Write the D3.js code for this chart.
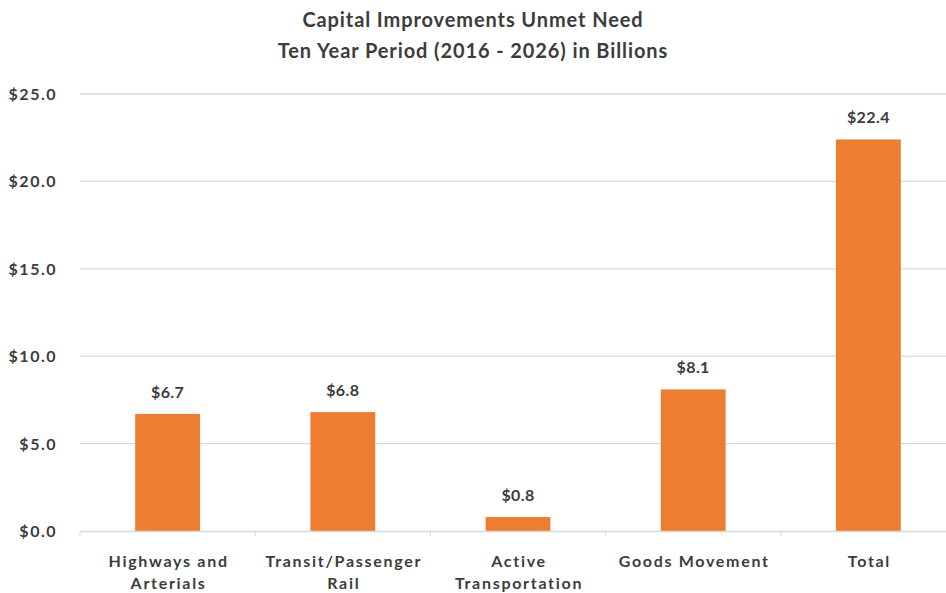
<!DOCTYPE html>
<html><head><meta charset="utf-8">
<script src="https://cdn.jsdelivr.net/npm/d3@7"></script>
<style>body{margin:0;background:#fff}svg{display:block}</style>
</head><body><svg id="c" width="946" height="593"></svg>
<script>
const categories = [["Highways and","Arterials"],["Transit/Passenger","Rail"],["Active","Transportation"],["Goods Movement"],["Total"]];
const values = [6.7, 6.8, 0.8, 8.1, 22.4];
const yTicks = [0, 5, 10, 15, 20, 25];
const titleLines = ["Capital Improvements Unmet Need", "Ten Year Period (2016 - 2026) in Billions"];

(function(){
const svg = d3.select("#c");
const W = 946, H = 593;
const mLeft = 80, mRight = 956, mTop = 94, mBottom = 531;
const font = "Lato, 'Open Sans', sans-serif";
const txt = "#3c3c3c";

const keys = categories.map(c => c.join(" "));
const x = d3.scaleBand().domain(keys).range([mLeft, mRight]).paddingInner(0.63).paddingOuter(0.315);
const xc = d3.scaleBand().domain(keys).range([mLeft, mRight]).padding(0);
const y = d3.scaleLinear().domain([0, 25]).range([mBottom, mTop]);

// title
svg.append("g").selectAll("text").data(titleLines).join("text")
  .attr("x", 473).attr("y", (d,i) => 27 + i*31)
  .attr("text-anchor","middle").attr("font-family",font).attr("font-weight","bold")
  .attr("font-size",20).attr("letter-spacing","0.9px").attr("fill",txt).text(d => d);

// gridlines
svg.append("g").selectAll("line").data(yTicks.filter(t => t>0)).join("line")
  .attr("x1", mLeft).attr("x2", W).attr("y1", d => y(d)).attr("y2", d => y(d))
  .attr("stroke","#d9d9d9").attr("stroke-width",1.3);

// y labels
svg.append("g").selectAll("text").data(yTicks).join("text")
  .attr("x", 57).attr("y", d => y(d)+6).attr("text-anchor","end")
  .attr("font-family",font).attr("font-weight","bold").attr("font-size",16)
  .attr("letter-spacing","1.5px").attr("fill",txt)
  .text(d => "$" + d.toFixed(1));

// bars
svg.append("g").selectAll("rect").data(values).join("rect")
  .attr("x", (d,i) => x(keys[i])).attr("width", x.bandwidth())
  .attr("y", d => y(d)).attr("height", d => mBottom - y(d))
  .attr("fill","#ED7D31");

// x axis
const xAxis = d3.axisBottom(xc).tickSize(0).tickFormat("");
const gx = svg.append("g").attr("transform",`translate(0,${mBottom})`).call(xAxis);
gx.select(".domain").attr("stroke","#d9d9d9").attr("stroke-width",1.3);
gx.append("g").selectAll("line").data(keys.slice(1)).join("line")
  .attr("x1", d => xc(d)).attr("x2", d => xc(d)).attr("y1",0).attr("y2",5)
  .attr("stroke","#d9d9d9");
svg.append("line").attr("x1",mLeft).attr("x2",mLeft).attr("y1",mBottom).attr("y2",mBottom+5).attr("stroke","#d9d9d9");

// value labels
svg.append("g").selectAll("text").data(values).join("text")
  .attr("x", (d,i) => x(keys[i]) + x.bandwidth()/2).attr("y", d => y(d) - 16)
  .attr("text-anchor","middle").attr("font-family",font).attr("font-weight","bold")
  .attr("font-size",16).attr("letter-spacing","0.4px").attr("fill",txt).text(d => "$" + d.toFixed(1));

// category labels
const cl = svg.append("g").selectAll("text").data(categories).join("text")
  .attr("text-anchor","middle").attr("font-family",font).attr("font-weight","bold")
  .attr("font-size",16).attr("letter-spacing","1.7px").attr("fill",txt)
  .attr("transform",(d,i) => `translate(${xc(keys[i]) + xc.bandwidth()/2 + 1},567)`);
cl.selectAll("tspan").data(d => d).join("tspan")
  .attr("x",0).attr("dy",(d,i) => i===0 ? 0 : 22).text(d => d);
})();
</script></body></html>
